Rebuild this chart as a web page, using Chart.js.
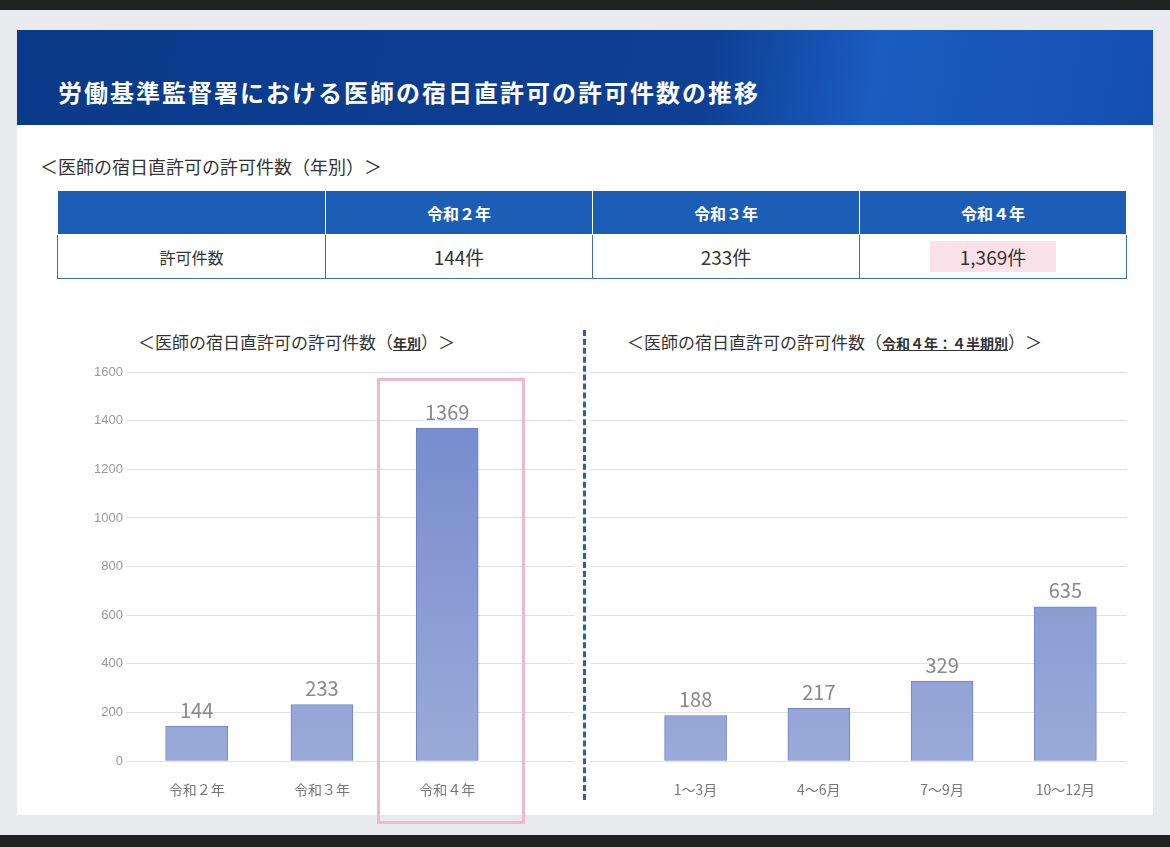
<!DOCTYPE html>
<html><head><meta charset="utf-8">
<script src="https://cdn.jsdelivr.net/npm/chart.js@4"></script>
<style>
body{margin:0;width:1170px;height:847px;background:#e9eaee;position:relative;overflow:hidden;font-family:"Noto Sans CJK JP",sans-serif}
#top{position:absolute;left:0;top:0;width:1170px;height:10px;background:#222}
#bot{position:absolute;left:0;top:835px;width:1170px;height:12px;background:#222}
#card{position:absolute;left:17px;top:30px;width:1136px;height:785px;background:#fff}
#hdr{position:absolute;left:17px;top:30px;width:1136px;height:95px;background:linear-gradient(100deg,#0b3a8a 0%,#0d3f92 60%,#1a5cc0 75%,#1550b0 100%)}
#title{position:absolute;left:58px;top:74px;color:#fff;font-size:24px;font-weight:bold;letter-spacing:2px}
.t{position:absolute;color:#333}
table{position:absolute;left:57px;top:190px;width:1070px;border-collapse:collapse;table-layout:fixed}
td{border:1.5px solid #3a6fb5;text-align:center;height:41px;font-size:19px;color:#333}
tr.h td{background:#1c5db5;color:#fff;font-weight:bold;font-size:16px;border-color:#fff}
canvas{position:absolute}
#dash{position:absolute;left:583px;top:330px;height:470px;border-left:3px dashed #2a5fb0}
#pink{position:absolute;left:377px;top:378px;width:142px;height:440px;border:3px solid #f0b8cf}
</style></head><body>
<div id="top"></div><div id="bot"></div><div id="card"></div><div id="hdr"></div>
<div id="title">労働基準監督署における医師の宿日直許可の許可件数の推移</div>
<div class="t" style="left:40px;top:153px;font-size:18px">＜医師の宿日直許可の許可件数（年別）＞</div>
<table>
<tr class="h"><td style="width:265px"></td><td>令和２年</td><td>令和３年</td><td>令和４年</td></tr>
<tr><td style="font-size:16px">許可件数</td><td>144件</td><td>233件</td><td><span style="background:#fbe1ea;padding:2px 30px">1,369件</span></td></tr>
</table>
<div class="t" style="left:138px;top:329px;font-size:17px">＜医師の宿日直許可の許可件数（<b style="text-decoration:underline;font-size:14px">年別</b>）＞</div>
<div class="t" style="left:627px;top:329px;font-size:17px">＜医師の宿日直許可の許可件数（<b style="text-decoration:underline;font-size:14px">令和４年：４半期別</b>）＞</div>
<div id="dash"></div>
<canvas id="c1" style="left:60px;top:360px;width:520px;height:450px" width="520" height="450"></canvas>
<canvas id="c2" style="left:590px;top:360px;width:545px;height:450px" width="545" height="450"></canvas>
<div id="pink"></div>
<script>
const yearCats=["令和２年","令和３年","令和４年"];
const yearVals=[144,233,1369];
const qCats=["1～3月","4～6月","7～9月","10～12月"];
const qVals=[188,217,329,635];
const yTicks=[0,200,400,600,800,1000,1200,1400,1600];

const labelPlugin={id:'lbl',afterDatasetsDraw(ch){
  const ctx=ch.ctx;ctx.save();ctx.fillStyle='#888';ctx.font='20px "Noto Sans CJK JP"';ctx.textAlign='center';ctx.textBaseline='bottom';
  ch.getDatasetMeta(0).data.forEach((b,i)=>{ctx.fillText(ch.data.datasets[0].data[i].y,b.x,b.y-6);});
  ctx.restore();}};
function mk(id,cats,vals,showY,xmin){
  const data=vals.map((v,i)=>({x:i+1,y:v}));
  return new Chart(document.getElementById(id),{type:'bar',
    data:{datasets:[{data,barThickness:62,backgroundColor:(c)=>{const a=c.chart.chartArea;if(!a)return '#8095cf';const g=c.chart.ctx.createLinearGradient(0,a.top,0,a.bottom);g.addColorStop(0,'#7288cc');g.addColorStop(1,'#9aaad8');return g;},borderColor:'#6c83c6',borderWidth:1}]},
    options:{responsive:false,animation:false,plugins:{legend:{display:false},tooltip:{enabled:false}},
      layout:{padding:{top:12,bottom:0,right:showY?5:8,left:showY?0:5}},
      scales:{x:{type:'linear',offset:false,min:xmin,max:showY?4.02:4.5,grid:{display:false},border:{display:false},
          afterBuildTicks:(s)=>{s.ticks=cats.map((c,i)=>({value:i+1}));},
          ticks:{color:'#777',padding:12,font:{size:14,family:'"Noto Sans CJK JP"'},callback:(v)=>cats[v-1]||''}},
        y:{min:0,max:1600,display:true,afterBuildTicks:(s)=>{s.ticks=yTicks.map(v=>({value:v}));},
          afterFit:(s)=>{s.width=showY?74:0;},
          grid:{color:'#e3e3e3'},border:{display:false},
          ticks:{display:showY,color:'#999',font:{size:13},callback:(v)=>String(v)}}}},
    plugins:[labelPlugin]});
}
mk('c1',yearCats,yearVals,true,0.5);
mk('c2',qCats,qVals,false,0.184);
</script></body></html>
